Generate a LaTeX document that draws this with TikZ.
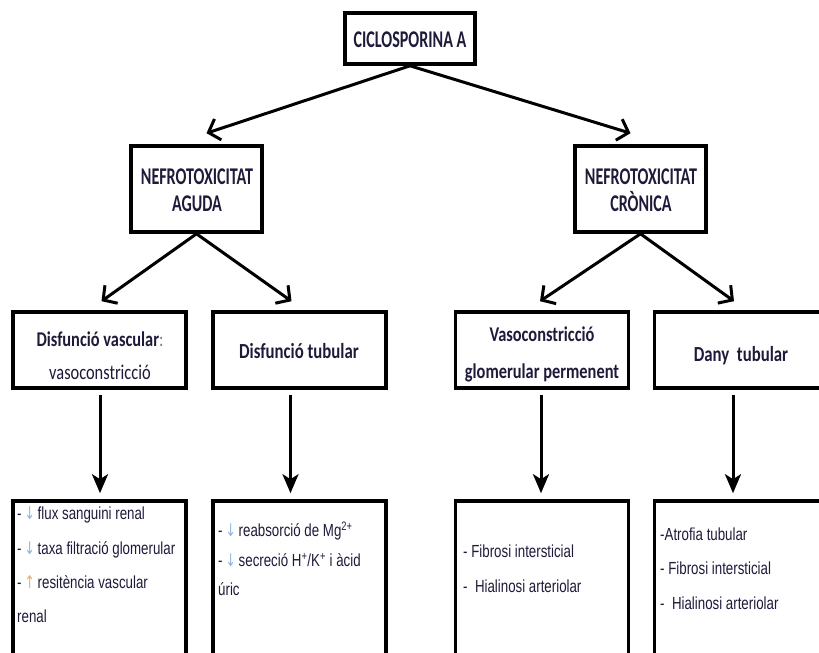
\documentclass[tikz,border=0pt]{standalone}
\usepackage{fontspec}
\usetikzlibrary{arrows.meta,calc}
\newfontfamily\hdfont[FakeStretch=0.67]{Carlito}
\newfontfamily\hmfont[FakeStretch=0.78]{Carlito}
\newfontfamily\lsfont[FakeStretch=0.76]{Liberation Sans}
\newfontfamily\arfont[FakeStretch=0.7]{DejaVu Sans}
\definecolor{tx}{HTML}{1E1B3A}
\definecolor{dnc}{HTML}{8FB4E0}
\definecolor{upc}{HTML}{E5B070}
\newcommand{\dnar}{{\arfont\color{dnc}↓}}
\newcommand{\upar}{{\arfont\color{upc}↑}}
\begin{document}
\begin{tikzpicture}[x=1pt,y=-1pt,
  box/.style={draw=black, line width=3.6pt, fill=white, inner sep=0pt},
  topbox/.style={box, minimum width=131pt, minimum height=86pt},
  midbox/.style={box, minimum width=173pt, minimum height=76pt},
  lowbox/.style={box, minimum width=173pt, minimum height=219pt},
  hd/.style={font=\hdfont\bfseries\fontsize{24}{27}\selectfont, align=center, text=tx, inner sep=0pt},
  hm/.style={font=\hmfont\bfseries\fontsize{21.5}{37}\selectfont, align=center, text=tx, inner sep=0pt},
  li/.style={font=\lsfont\fontsize{17.5}{20}\selectfont, text=tx, anchor=west, inner sep=0pt},
  arrO/.style={line width=3pt, -{Straight Barb[length=10pt,width=22pt,line width=3pt]}},
  arrV/.style={line width=3pt, -{Stealth[length=19pt,width=16pt,inset=5pt]}}
]
\useasboundingbox (0,0) rectangle (819,653);
\fill[white] (0,0) rectangle (819,653);
\clip (0,0) rectangle (819,653);

% level 1
\node[box, minimum width=130pt, minimum height=51pt] (cic) at (410,38.5) {};
\node[hd] (cict) at (410,40) {CICLOSPORINA A};

% level 2
\node[topbox] (agu) at (196.5,189) {};
\node[hd] (agut) at (197,190) {NEFROTOXICITAT\\AGUDA};
\node[topbox] (cro) at (640.5,189) {};
\node[hd] (crot) at (641,190) {NEFROTOXICITAT\\CRÒNICA};

% level 3
\node[midbox] (b1) at (99.5,350) {};
\node[hm, font=\hmfont\fontsize{21}{33}\selectfont] (b1t) at (100,356) {{\bfseries Disfunció vascular}{\color{gray}:}\\vasoconstricció};
\node[midbox] (b2) at (299.5,350) {};
\node[hm] (b2t) at (299,351) {Disfunció tubular};
\node[midbox] (b3) at (542,350) {};
\node[hm, font=\hmfont\bfseries\fontsize{21}{37}\selectfont] (b3t) at (542,354) {Vasoconstricció\\glomerular permenent};
\node[midbox] (b4) at (741,350) {};
\node[hm] (b4t) at (741,356) {Dany\ \ tubular};

% level 4
\node[lowbox] (c1) at (99.5,610.5) {};
\node[lowbox] (c2) at (299.5,610.5) {};
\node[lowbox] (c3) at (542,610.5) {};
\node[lowbox] (c4) at (741,610.5) {};

\node[li] (c1a) at (17,515) {-\,\dnar\,flux sanguini renal};
\node[li] (c1b) at (17,550) {-\,\dnar\,taxa filtració glomerular};
\node[li] (c1c) at (17,582) {-\,\upar\,resitència vascular};
\node[li] (c1d) at (17,616) {renal};

\node[li] (c2a) at (218,531) {-\,\dnar\,reabsorció de Mg\textsuperscript{2+}};
\node[li] (c2b) at (218,560) {-\,\dnar\,secreció H\textsuperscript{+}/K\textsuperscript{+} i àcid};
\node[li] (c2c) at (218,589) {úric};

\node[li] (c3a) at (463,551) {- Fibrosi intersticial};
\node[li] (c3b) at (463,586) {-\ \ Hialinosi arteriolar};

\node[li] (c4a) at (660,534) {-Atrofia tubular};
\node[li] (c4b) at (660,568) {- Fibrosi intersticial};
\node[li] (c4c) at (660,603) {-\ \ Hialinosi arteriolar};

% connectors
\draw[arrO] (cic.south) -- ($(agu.north)+(10,-11)$);
\draw[arrO] (cic.south) -- ($(cro.north)+(-10,-11)$);
\draw[arrO] (agu.south) -- ($(b1.north)+(2,-9)$);
\draw[arrO] (agu.south) -- ($(b2.north)+(-8,-9)$);
\draw[arrO] (cro.south) -- ($(b3.north)+(-2,-9)$);
\draw[arrO] (cro.south) -- ($(b4.north)+(-7,-9)$);

\draw[arrV] ($(b1.south)+(0.5,5)$) -- ($(c1.north)+(0.5,-6)$);
\draw[arrV] ($(b2.south)+(-9,5)$) -- ($(c2.north)+(-9,-6)$);
\draw[arrV] ($(b3.south)+(-1,5)$) -- ($(c3.north)+(-1,-6)$);
\draw[arrV] ($(b4.south)+(-8,5)$) -- ($(c4.north)+(-8,-6)$);
\end{tikzpicture}
\end{document}
